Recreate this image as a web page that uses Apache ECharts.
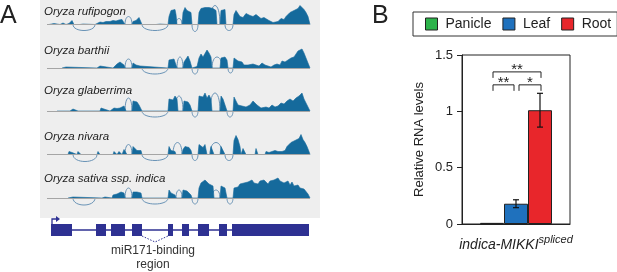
<!DOCTYPE html>
<html>
<head>
<meta charset="utf-8">
<script src="https://cdn.jsdelivr.net/npm/echarts@6/dist/echarts.min.js"></script>
<style>
  html, body { margin: 0; padding: 0; background: #fff; }
  #chart { width: 617px; height: 272px; }
</style>
</head>
<body>
<div id="chart"></div>
<script>
// ---- panel A: coverage tracks ([position, coverage]) ----
const trackNames = ["Oryza rufipogon", "Oryza barthii", "Oryza glaberrima", "Oryza nivara", "Oryza sativa ssp. indica"];

const rufipogon = [
  [9,0],[10,1],[14,1],[15,0],[20,0],[21,1.5],[23,1.5],[24,0],[26,0],[27,1],[29,1],[30,3],[32,4],[33,2],[34,0],
  [40,0],[41,0.5],[43,0.5],[44,0],
  [55,0],[56,2],[60,2.5],[63,2],[66,3],[70,3],[73,4],[76,3.5],[79,4.5],[82,5],[84,4],[85,0],
  [92,0],[93,3],[96,4],[99,7],[101,9],[102,0],
  [116,0],[117,0.5],[120,0.5],[121,0],
  [128,0],[129,8],[131,14],[133,12],[135,15],[136,10],[137,0],
  [142,0],[143,12],[145,17],[147,14],[149,16],[151,12],[152,0],
  [158,0],[159,12],[161,16],[163,14],[165,17],[167,19],[169,17],[171,15],[173,16],[176,14],[177,0],
  [180,0],[181,14],[183,16],[185,15],[186,0],
  [193,0],[194,10],[196,14],[198,11],[200,8],[203,7],[206,11],[208,13],[210,9],[213,8],[216,10],[218,9],
  [221,6],[224,7],[226,5],[229,4],[231,3],[233,2],[235,1],[238,3],[241,6],[244,5],[246,8],[248,10],
  [250,12],[252,11],[254,14],[256,13],[258,16],[260,19],[262,17],[264,15],[266,12],[268,8],[270,0]
];
const barthii = [
  [22,0],[23,1],[26,1],[27,0],
  [57,0],[58,2],[60,2],[61,0],
  [73,0],[74,2],[77,4],[79,3],[80,6],[82,5],[84,3],[85,0],
  [92,0],[93,5],[95,4],[96,3],[98,5],[100,2],[102,0],
  [128,0],[129,8],[131,10],[134,9],[136,10],[137,0],
  [143,0],[144,6],[146,8],[148,12],[150,7],[152,0],
  [153,0],[154,1.5],[157,1.5],[158,0],
  [159,10],[161,14],[163,11],[165,13],[167,18],[169,15],[171,11],[172,0],
  [180,0],[181,10],[183,12],[185,11],[187,8],[188,0],
  [193,0],[194,10],[196,9],[198,7],[200,5],[202,6],[204,3],[206,5],[208,3],[210,2],[213,4],[216,3],
  [219,2],[222,5],[225,3],[228,2],[231,1],[234,3],[237,4],[240,3],[242,7],[245,6],[248,8],[251,10],
  [254,11],[256,13],[258,17],[260,16],[262,19],[264,15],[266,10],[268,5],[270,0]
];
const glaberrima = [
  [17,0],[18,1],[19,1],[20,0],
  [30,0],[31,2],[33,2],[34,0],
  [38,0],[39,1.5],[40,1.5],[41,0],
  [60,0],[61,3],[63,4],[64,2],[65,1],[66,0],[70,0],[71,2],[74,3],[77,2.5],[80,3],[82,4],[84,5],[85,3],[86,0],
  [92,0],[93,10],[95,8],[97,9],[99,6],[101,4],[102,0],
  [128,0],[129,12],[131,14],[133,11],[135,15],[137,12],[138,0],
  [143,0],[144,10],[146,8],[148,9],[150,6],[152,0],
  [158,0],[159,15],[161,17],[163,14],[165,18],[167,13],[169,16],[171,12],[172,0],
  [180,0],[181,15],[183,12],[185,13],[187,0],
  [193,0],[194,14],[196,10],[198,6],[200,8],[202,5],[204,6],[206,4],[208,3],[210,6],[213,10],[215,8],
  [217,6],[219,4],[221,3],[223,5],[226,4],[229,3],[232,6],[235,4],[238,5],[241,8],[244,7],[247,10],
  [250,12],[253,10],[256,13],[259,15],[262,18],[264,12],[267,6],[270,0]
];
const nivara = [
  [28,0],[29,3],[31,3],[32,2],[33,0],
  [37,0],[38,3],[40,3],[41,0],
  [57,0],[58,3],[59,3],[60,0],
  [73,0],[74,3],[76,3],[77,0],[78,0],[79,3],[81,3],[82,0],[83,0],[84,5],[86,6],[87,0],
  [92,0],[93,8],[95,6],[97,4],[99,6],[101,4],[102,0],
  [128,0],[129,8],[131,4],[133,3],[135,3],[136,0],
  [142,0],[143,5],[145,8],[147,6],[149,7],[151,4],[152,0],
  [158,0],[159,10],[161,8],[163,7],[165,10],[167,0],[170,0],[171,8],[173,6],[174,0],
  [180,0],[181,8],[183,6],[185,0],
  [193,0],[194,14],[196,19],[198,15],[200,8],[201,0],[202,0],[203,6],[205,6],[206,0],
  [215,0],[216,6],[218,0],
  [225,0],[226,3],[229,2],[232,3],[235,4],[238,3],[242,3],[245,4],[247,8],[249,10],[251,12],[253,11],
  [255,14],[257,13],[259,16],[261,20],[263,15],[265,12],[267,8],[269,3],[270,0]
];
const indica = [
  [28,0],[29,1],[33,1],[34,0],
  [62,0],[63,1],[65,1],[66,0],
  [72,0],[73,3],[75,4],[77,4],[79,5],[81,6],[83,7],[84,5],[85,0],
  [92,0],[93,6],[95,5],[97,6],[99,6],[101,5],[102,0],
  [128,0],[129,8],[131,5],[133,3],[135,3],[136,0],
  [142,0],[143,8],[145,7],[147,7],[149,5],[151,3],[152,0],
  [158,0],[159,10],[161,15],[163,17],[165,18],[167,16],[169,14],[171,15],[173,12],[174,0],
  [180,0],[181,12],[183,14],[185,10],[187,0],
  [193,0],[194,10],[196,12],[198,11],[200,14],[202,12],[204,15],[206,13],[208,16],[210,14],[212,18],
  [214,15],[216,17],[218,14],[220,17],[222,15],[224,18],[226,16],[228,14],[230,17],[232,15],[234,18],
  [236,16],[238,20],[240,17],[242,19],[244,15],[246,14],[248,17],[250,13],[252,16],[254,12],[256,11],
  [258,13],[260,10],[262,12],[264,9],[266,7],[268,4],[270,0]
];
const coverage = [rufipogon, barthii, glaberrima, nivara, indica];

// splice junctions: [from, to, arc height (+ above, - below)]
const rufipogonArcs = [[33,55,-6],[85,92,8],[102,128,-6],[136,142,6],[152,158,-7],[170,180,19],[185,193,-6]];
const barthiiArcs = [[85,92,9],[102,128,-6],[137,143,11],[152,158,-6],[172,182,11],[188,193,-5]];
const glaberrimaArcs = [[85,92,13],[102,128,-6],[135,143,15],[152,158,-6],[170,180,18],[187,193,-6]];
const nivaraArcs = [[33,57,-7],[85,92,10],[102,128,-6],[133,142,12],[152,158,-6],[170,182,12],[185,193,-6]];
const indicaArcs = [[33,55,-7],[85,92,10],[102,128,-6],[136,142,8],[152,158,-6],[172,180,8],[187,193,-6]];
const junctions = [rufipogonArcs, barthiiArcs, glaberrimaArcs, nivaraArcs, indicaArcs];

// gene model
const exons = [[11,32],[56,66],[71,85],[92,102],[128,133],[142,149],[158,169],[179,187],[192,269]];
const tssArrow = [[12, 20]];
const mirSite = [[102, 128]];

// ---- panel B ----
const tissues = ["Panicle", "Leaf", "Root"];
const rnaMean = [0.01, 0.18, 1.01];
const rnaErr = [0, 0.035, 0.15];
const sigPairs = [[0, 2, 1.35], [0, 1, 1.235], [1, 2, 1.235]];
const sigLabels = ["**", "**", "*"];

// ---- layout / styles ----
const FONT = "Liberation Sans, Arial, sans-serif";
const covColor = "#156a9c";
const arcColor = "#6993b6";
const geneColor = "#2e3192";
const tissueColors = ["#2cb34a", "#1f71bd", "#e8262b"];
const baselines = [24.5, 68, 111, 154.5, 198];
const labelY = [11.5, 51, 91, 137, 179];
const BAR_W = 24;

const chart = echarts.init(document.getElementById("chart"));

const grids = [], xAxes = [], yAxes = [], series = [];

baselines.forEach((b, i) => {
  grids.push({ left: 47, width: 263, top: b - 22, height: 32 });
  xAxes.push({ gridIndex: i, type: "value", min: 7, max: 270, show: false });
  yAxes.push({ gridIndex: i, type: "value", min: -10, max: 22, show: false });
  series.push({
    type: "custom",
    xAxisIndex: i, yAxisIndex: i,
    z: 2,
    silent: true,
    encode: { x: [0, 1], y: 2 },
    data: junctions[i],
    renderItem: (params, api) => {
      const x1 = api.value(0), x2 = api.value(1), h = api.value(2);
      const p1 = api.coord([x1, 0]), p2 = api.coord([x2, 0]);
      const c1 = api.coord([x1, h * 4 / 3]), c2 = api.coord([x2, h * 4 / 3]);
      return {
        type: "bezierCurve",
        shape: { x1: p1[0], y1: p1[1], x2: p2[0], y2: p2[1], cpx1: c1[0], cpy1: c1[1], cpx2: c2[0], cpy2: c2[1] },
        style: { stroke: arcColor, fill: null, lineWidth: 1 }
      };
    }
  });
  series.push({
    type: "line",
    xAxisIndex: i, yAxisIndex: i,
    z: 3,
    silent: true,
    showSymbol: false,
    symbol: "none",
    data: coverage[i],
    lineStyle: { color: covColor, width: 0.6 },
    areaStyle: { color: covColor, opacity: 1 },
    markLine: {
      silent: true, symbol: "none", label: { show: false },
      lineStyle: { color: "#a5a5a5", width: 1, type: "solid" },
      data: [{ yAxis: 0 }]
    }
  });
});

// gene model grid
const G = 5;
grids.push({ left: 47, width: 263, top: 218, height: 24 });
xAxes.push({ gridIndex: G, type: "value", min: 7, max: 270, show: false });
yAxes.push({ gridIndex: G, type: "value", min: -1, max: 1, show: false });
series.push({
  type: "line", xAxisIndex: G, yAxisIndex: G, silent: true, symbol: "none", z: 2,
  data: [[exons[0][0], 0], [exons[exons.length - 1][1], 0]],
  lineStyle: { color: geneColor, width: 1.5 }
});
series.push({
  type: "custom", xAxisIndex: G, yAxisIndex: G, silent: true, z: 3,
  encode: { x: [0, 1], y: -1 },
  data: exons,
  renderItem: (params, api) => {
    const a = api.coord([api.value(0), 0]), b = api.coord([api.value(1), 0]);
    return { type: "rect", shape: { x: a[0], y: a[1] - 6, width: b[0] - a[0], height: 12 }, style: { fill: geneColor } };
  }
});
series.push({
  type: "custom", xAxisIndex: G, yAxisIndex: G, silent: true, z: 3,
  encode: { x: [0, 1], y: -1 },
  data: tssArrow,
  renderItem: (params, api) => {
    const a = api.coord([api.value(0), 0]), b = api.coord([api.value(1), 0]);
    const top = a[1] - 11;
    return {
      type: "group",
      children: [
        { type: "polyline", shape: { points: [[a[0], a[1] - 6], [a[0], top], [b[0] - 3, top]] }, style: { stroke: geneColor, lineWidth: 1.3, fill: null } },
        { type: "polygon", shape: { points: [[b[0] - 4, top - 3], [b[0], top], [b[0] - 4, top + 3]] }, style: { fill: geneColor } }
      ]
    };
  }
});
series.push({
  type: "custom", xAxisIndex: G, yAxisIndex: G, silent: true, z: 3,
  encode: { x: [0, 1], y: -1 },
  data: mirSite,
  renderItem: (params, api) => {
    const a = api.coord([api.value(0), 0]), b = api.coord([api.value(1), 0]);
    const y0 = a[1] + 6;
    return {
      type: "polyline",
      shape: { points: [[a[0], y0], [(a[0] + b[0]) / 2, y0 + 6], [b[0], y0]] },
      style: { stroke: geneColor, lineWidth: 1, lineDash: [1.5, 1.5], fill: null }
    };
  }
});

// panel B grid
const B = 6;
grids.push({ left: 462, top: 55, width: 108, height: 169, show: true, borderColor: "#222", borderWidth: 1, backgroundColor: "transparent" });
xAxes.push({
  gridIndex: B, type: "category", data: ["indica-MIKKI"],
  axisLine: { show: true, lineStyle: { color: "#222", width: 1 } },
  axisTick: { show: false },
  axisLabel: {
    margin: 10,
    formatter: (v) => "{a|" + v + "}{b|spliced}",
    rich: {
      a: { fontFamily: FONT, fontSize: 14, fontStyle: "italic", color: "#222", lineHeight: 22 },
      b: { fontFamily: FONT, fontSize: 11, fontStyle: "italic", color: "#222", verticalAlign: "top", lineHeight: 11 }
    }
  }
});
yAxes.push({
  gridIndex: B, type: "value", min: 0, max: 1.5, interval: 0.5,
  name: "Relative RNA levels", nameLocation: "middle", nameGap: 36,
  nameTextStyle: { fontFamily: FONT, fontSize: 13, color: "#222" },
  axisLine: { show: true, lineStyle: { color: "#222", width: 1 } },
  axisTick: { show: true, length: 5, lineStyle: { color: "#222" } },
  axisLabel: { fontFamily: FONT, fontSize: 13, color: "#222", margin: 9, formatter: (v) => String(v) },
  splitLine: { show: false }
});
tissues.forEach((t, k) => {
  series.push({
    name: t, type: "bar", xAxisIndex: B, yAxisIndex: B,
    barWidth: BAR_W, barGap: "0%",
    data: [rnaMean[k]],
    itemStyle: { color: tissueColors[k], borderColor: "#222", borderWidth: 1 },
    silent: true
  });
});
series.push({
  type: "custom", xAxisIndex: B, yAxisIndex: B, silent: true, z: 5,
  encode: { x: 0, y: [1, 2] },
  data: rnaMean.map((m, k) => [0, m - rnaErr[k], m + rnaErr[k], k]).filter((d, k) => rnaErr[k] > 0),
  renderItem: (params, api) => {
    const k = api.value(3);
    const lo = api.coord([0, api.value(1)]), hi = api.coord([0, api.value(2)]);
    const x = lo[0] + (k - 1) * BAR_W;
    const st = { stroke: "#111", lineWidth: 1.2 };
    return {
      type: "group",
      children: [
        { type: "line", shape: { x1: x, y1: lo[1], x2: x, y2: hi[1] }, style: st },
        { type: "line", shape: { x1: x - 3, y1: lo[1], x2: x + 3, y2: lo[1] }, style: st },
        { type: "line", shape: { x1: x - 3, y1: hi[1], x2: x + 3, y2: hi[1] }, style: st }
      ]
    };
  }
});
series.push({
  type: "custom", xAxisIndex: B, yAxisIndex: B, silent: true, z: 5,
  encode: { x: 0, y: 3 },
  data: sigPairs.map((p) => [0, p[0], p[1], p[2]]),
  renderItem: (params, api) => {
    const i = api.value(1), j = api.value(2);
    const c = api.coord([0, api.value(3)]);
    const x1 = c[0] + (i - 1) * BAR_W + (i === 0 ? 1 : 3);
    const x2 = c[0] + (j - 1) * BAR_W + (j === 2 ? 1 : -2);
    const y = c[1];
    return {
      type: "group",
      children: [
        { type: "polyline", shape: { points: [[x1, y + 6], [x1, y], [x2, y], [x2, y + 6]] }, style: { stroke: "#222", lineWidth: 1, fill: null } },
        { type: "text", x: (x1 + x2) / 2, y: y - 2,
          style: { text: sigLabels[params.dataIndex], font: "15px " + FONT, fill: "#222", align: "center", verticalAlign: "middle" } }
      ]
    };
  }
});

const graphic = [
  { type: "rect", shape: { x: 40, y: 0, width: 280, height: 218 }, style: { fill: "#eeeeee" }, z: -10, silent: true },
  { type: "text", x: 0, y: 16, style: { text: "A", font: "25px " + FONT, fill: "#222", verticalAlign: "middle" } },
  { type: "text", x: 372, y: 16, style: { text: "B", font: "25px " + FONT, fill: "#222", verticalAlign: "middle" } },
  { type: "text", x: 153, y: 251, style: { text: "miR171-binding", font: "12px " + FONT, fill: "#333", align: "center", verticalAlign: "middle" } },
  { type: "text", x: 153, y: 265, style: { text: "region", font: "12px " + FONT, fill: "#333", align: "center", verticalAlign: "middle" } }
];
trackNames.forEach((n, i) => {
  graphic.push({ type: "text", x: 44, y: labelY[i], z: 10,
    style: { text: n, font: "italic 11.5px " + FONT, fill: "#222", verticalAlign: "middle" } });
});

chart.setOption({
  animation: false,
  textStyle: { fontFamily: FONT },
  graphic: graphic,
  legend: {
    left: 413, top: 12, width: 260,
    data: tissues,
    icon: "rect",
    itemWidth: 12, itemHeight: 12, itemGap: 11,
    padding: [5, 6, 5, 12],
    borderColor: "#333", borderWidth: 1,
    itemStyle: { borderColor: "#222", borderWidth: 1 },
    textStyle: { fontFamily: FONT, fontSize: 14, color: "#222", padding: [0, 0, 0, 3] }
  },
  grid: grids,
  xAxis: xAxes,
  yAxis: yAxes,
  series: series
});
</script>
</body>
</html>
